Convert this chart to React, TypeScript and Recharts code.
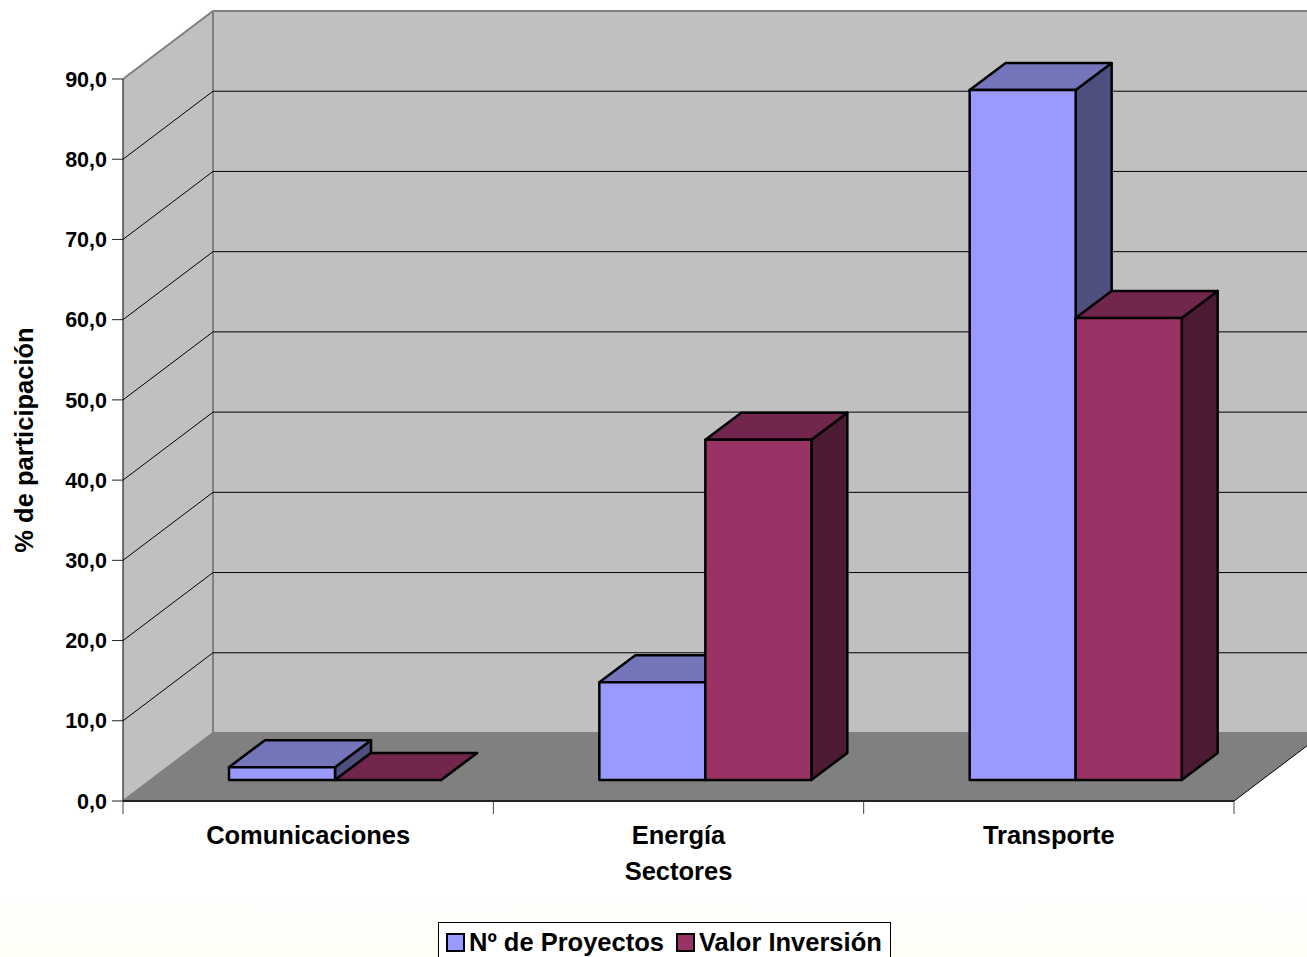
import { BarChart, Bar, XAxis, YAxis, CartesianGrid, Legend } from "recharts";

const SECTORS = ["Comunicaciones", "Energía", "Transporte"];
const PROYECTOS = [1.6, 12.2, 86.0];
const INVERSION = [0.0, 42.4, 57.6];
const Y_TICKS = [0, 10, 20, 30, 40, 50, 60, 70, 80, 90];

const data = SECTORS.map((sector, i) => ({
  sector,
  proyectos: PROYECTOS[i],
  inversion: INVERSION[i],
}));

const FONT = "'Liberation Sans', Arial, sans-serif";
const WIDTH = 1307;
const HEIGHT = 957;

// plot rectangle of the front plane and the depth of the 3D box
const LEFT = 123;
const RIGHT = 1234;
const TOP = 79;
const BOTTOM = 801;
const DEPTH_X = 90;
const DEPTH_Y = 68;
const BAR_DEPTH_X = 36;
const BAR_DEPTH_Y = 27;
const BAR_SHIFT_X = 27;
const BAR_SHIFT_Y = 21;

const SHADES: Record<string, { top: string; side: string }> = {
  "#9999FF": { top: "#7575BC", side: "#4E4E7F" },
  "#993366": { top: "#72264D", side: "#4D1A33" },
};

// sits behind the transparent chart so the grid lines stay visible
function Walls() {
  const bx = LEFT + DEPTH_X;
  const bxr = RIGHT + DEPTH_X;
  const by = BOTTOM - DEPTH_Y;
  const ty = TOP - DEPTH_Y;
  return (
    <svg width={WIDTH} height={HEIGHT} style={{ position: "absolute", left: 0, top: 0 }}>
      <polygon points={`${bx},${ty} ${bxr},${ty} ${bxr},${by} ${bx},${by}`} fill="#C0C0C0" />
      <polygon points={`${LEFT},${TOP} ${bx},${ty} ${bx},${by} ${LEFT},${BOTTOM}`} fill="#C0C0C0" />
      <polygon points={`${LEFT},${BOTTOM} ${RIGHT},${BOTTOM} ${bxr},${by} ${bx},${by}`} fill="#808080" />
      <path
        d={`M${LEFT},${TOP} L${bx},${ty} L${bxr},${ty} M${bx},${ty} L${bx},${by} L${bxr},${by} M${LEFT},${BOTTOM} L${bx},${by}`}
        stroke="#808080"
        strokeWidth={2}
        fill="none"
      />
      <line x1={RIGHT} y1={BOTTOM} x2={bxr} y2={by} stroke="#000" strokeWidth={1} />
    </svg>
  );
}

// one horizontal grid line on the back wall plus its diagonal on the side wall
function gridLine(props: any) {
  const y = props.y1;
  if (Math.abs(y - TOP) < 1 || Math.abs(y - BOTTOM) < 1) return <g key={props.key ?? y} />;
  return (
    <g key={props.key ?? y}>
      <line x1={LEFT} y1={y} x2={LEFT + DEPTH_X} y2={y - DEPTH_Y} stroke="#000" strokeWidth={1} />
      <line x1={LEFT + DEPTH_X} y1={y - DEPTH_Y} x2={RIGHT + DEPTH_X} y2={y - DEPTH_Y} stroke="#000" strokeWidth={1} />
    </g>
  );
}

function Bar3D(props: any) {
  const { x, y, width, height, fill } = props;
  const x0 = x + BAR_SHIFT_X;
  const y0 = y - BAR_SHIFT_Y;
  const x1 = x0 + width;
  const y1 = y0 + height;
  const shade = SHADES[fill];
  return (
    <g stroke="#000" strokeWidth={2.5} strokeLinejoin="round">
      <polygon
        points={`${x1},${y0} ${x1 + BAR_DEPTH_X},${y0 - BAR_DEPTH_Y} ${x1 + BAR_DEPTH_X},${y1 - BAR_DEPTH_Y} ${x1},${y1}`}
        fill={shade.side}
      />
      <polygon
        points={`${x0},${y0} ${x1},${y0} ${x1 + BAR_DEPTH_X},${y0 - BAR_DEPTH_Y} ${x0 + BAR_DEPTH_X},${y0 - BAR_DEPTH_Y}`}
        fill={shade.top}
      />
      <rect x={x0} y={y0} width={width} height={height} fill={fill} />
    </g>
  );
}

function SectorTick(props: any) {
  const { x, payload, index } = props;
  const half = (RIGHT - LEFT) / SECTORS.length / 2;
  return (
    <g>
      <line x1={x - half} y1={BOTTOM} x2={x - half} y2={BOTTOM + 13} stroke="#444" strokeWidth={1} />
      {index === SECTORS.length - 1 && (
        <line x1={x + half} y1={BOTTOM} x2={x + half} y2={BOTTOM + 13} stroke="#444" strokeWidth={1} />
      )}
      <text x={x} y={BOTTOM + 43} textAnchor="middle" fontSize={25.5} fontWeight="bold" fontFamily={FONT} fill="#000">
        {payload.value}
      </text>
    </g>
  );
}

function LegendBox(props: any) {
  const items = props.payload ?? [];
  return (
    <div
      style={{
        boxSizing: "border-box",
        width: 453,
        height: 44,
        border: "1px solid #000",
        background: "#fff",
        display: "flex",
        alignItems: "flex-start",
        paddingLeft: 7,
        paddingTop: 4,
        whiteSpace: "nowrap",
      }}
    >
      {items.map((item: any) => (
        <div key={item.value} style={{ display: "flex", alignItems: "center", marginRight: 12, flexShrink: 0 }}>
          <div
            style={{
              boxSizing: "border-box",
              width: 19,
              height: 19,
              border: "2px solid #000",
              background: item.color,
              marginRight: 4,
              flexShrink: 0,
            }}
          />
          <span style={{ font: `bold 25.5px ${FONT}`, color: "#000", lineHeight: "30px" }}>{item.value}</span>
        </div>
      ))}
    </div>
  );
}

export default function App() {
  return (
    <div
      style={{
        position: "absolute",
        left: 0,
        top: 0,
        width: WIDTH,
        height: HEIGHT,
        overflow: "hidden",
        background: "linear-gradient(to bottom, #ffffff 93%, #fbfff5 100%)",
      }}
    >
      <Walls />
      <BarChart
        width={WIDTH}
        height={HEIGHT}
        data={data}
        barSize={106}
        barGap={0}
        margin={{ top: TOP, right: WIDTH - RIGHT, bottom: 0, left: 0 }}
      >
        <CartesianGrid horizontal={gridLine} vertical={false} />
        <XAxis
          dataKey="sector"
          height={HEIGHT - BOTTOM}
          axisLine={{ stroke: "#222", strokeWidth: 2 }}
          tickLine={false}
          tick={SectorTick}
          interval={0}
          label={{
            value: "Sectores",
            position: "insideTop",
            offset: 61,
            fontSize: 25.5,
            fontWeight: "bold",
            fontFamily: FONT,
            fill: "#000",
          }}
        />
        <YAxis
          domain={[0, 90]}
          ticks={Y_TICKS}
          width={LEFT}
          interval={0}
          tickFormatter={(v: number) => v.toFixed(1).replace(".", ",")}
          axisLine={{ stroke: "#000", strokeWidth: 1 }}
          tickLine={{ stroke: "#222", strokeWidth: 1 }}
          tickSize={11}
          tickMargin={5}
          tick={{ fontSize: 21.5, fontWeight: "bold", fontFamily: FONT, fill: "#000" }}
          label={{
            value: "% de participación",
            angle: -90,
            position: "insideLeft",
            offset: 24,
            fontSize: 25.5,
            fontWeight: "bold",
            fontFamily: FONT,
            fill: "#000",
            style: { textAnchor: "middle" },
          }}
        />
        <Legend
          layout="horizontal"
          align="center"
          verticalAlign="middle"
          content={LegendBox}
          wrapperStyle={{ position: "absolute", left: 438, top: 922, width: 453, margin: 0 }}
        />
        <Bar dataKey="proyectos" name="Nº de Proyectos" fill="#9999FF" shape={Bar3D} isAnimationActive={false} />
        <Bar dataKey="inversion" name="Valor Inversión" fill="#993366" shape={Bar3D} isAnimationActive={false} />
      </BarChart>
    </div>
  );
}
